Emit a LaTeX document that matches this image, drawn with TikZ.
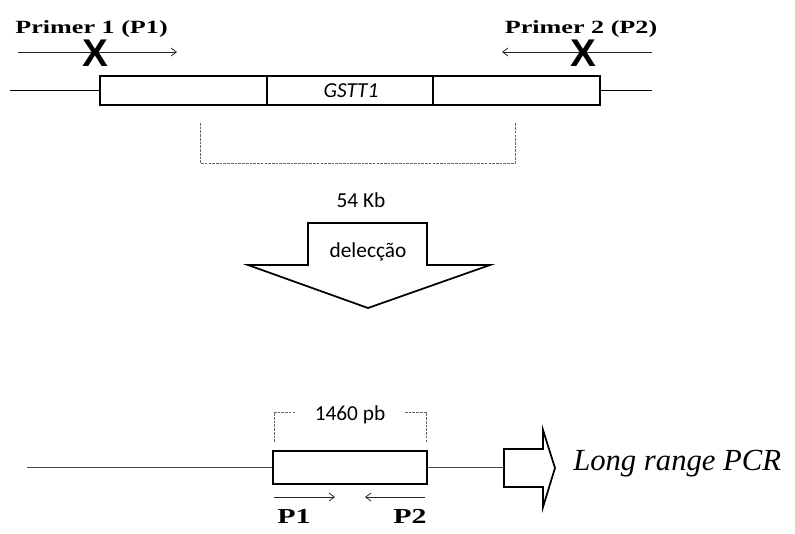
\documentclass[tikz,border=0pt]{standalone}
\usepackage{fontspec}
\setmainfont{Liberation Serif}
\newfontfamily\calfont{Carlito}
\newfontfamily\primfont{Liberation Serif}[UprightFont=* Bold, FakeStretch=1.4]
\newfontfamily\xfont{Liberation Sans}[UprightFont=* Bold]
\usetikzlibrary{arrows.meta, positioning}
\definecolor{lineGrey}{HTML}{4A4A4A}
\definecolor{dashGrey}{HTML}{666666}
\tikzset{
  gene/.style       = {draw, line width=1.8pt, minimum height=21.75pt, inner sep=0pt},
  flank/.style      = {line width=1.3pt},
  primer/.style     = {-{Straight Barb[length=4pt, width=6pt]}, line width=0.6pt, black!85},
  brack/.style      = {dashGrey, line width=0.7pt, dash pattern=on 2pt off 0.8pt},
  blockarrow/.style = {draw, line width=1.3pt, fill=white, line join=miter},
  plbl/.style       = {font=\primfont\fontsize{14}{16}\selectfont, inner sep=0pt},
  slbl/.style       = {font=\calfont\fontsize{16}{19}\selectfont, inner sep=0pt},
  xmark/.style      = {font=\xfont\fontsize{29}{30}\selectfont, inner sep=0pt},
}

\begin{document}
\begin{tikzpicture}[x=0.75pt, y=-0.75pt]
\useasboundingbox (0,0) rectangle (795,533);

% ---- top: GSTT1 locus with both primers -----------------------------------
\node[gene, minimum width=125.25pt] (seg1) at (183.5,90.5) {};
\node[gene, minimum width=124.5pt] (seg2) at (350,90.5) {};
\node[gene, minimum width=125.25pt] (seg3) at (516.5,90.5) {};
\node[slbl, font=\calfont\itshape\fontsize{16}{19}\selectfont, anchor=base] (gstt) at (351,97) {GSTT1};
\coordinate (flankL) at (10,90.5);
\coordinate (flankR) at (652,90.5);
\draw[flank] (flankL) -- (seg1.west);
\draw[flank] (seg3.east) -- (flankR);

\node[plbl, anchor=base] (pr1) at (91.5,33) {Primer 1 (P1)};
\node[plbl, anchor=base] (pr2) at (581,33) {Primer 2 (P2)};
\coordinate (p1a) at (18,52);
\coordinate (p1b) at (177,52);
\coordinate (p2a) at (652,52);
\coordinate (p2b) at (502,52);
\draw[primer] (p1a) -- (p1b);
\draw[primer] (p2a) -- (p2b);
\node[xmark] (x1) at (95,53) {X};
\node[xmark] (x2) at (583,53) {X};

% ---- deleted region and the block arrow -----------------------------------
\coordinate (d1) at (200,123);
\coordinate (d2) at (515,123);
\draw[brack] (d1) -- ++(0,40) -| (d2);
\node[slbl, anchor=base] (kb) at (361,207) {54 Kb};
\draw[blockarrow] (308,223) -- (427,223) -- (427,265) -- (490,265) -- (368,308)
  -- (248,265) -- (308,265) -- cycle;
\node[slbl, anchor=base] (del) at (368,257) {delecção};

% ---- bottom: deleted allele, long range PCR -------------------------------
\node[gene, minimum width=115.5pt, minimum height=24.75pt] (amp) at (350,467.5) {};
\coordinate (flankB) at (27,467.5);
\coordinate (pcrtail) at (504,467.5);
\draw[flank, lineGrey] (flankB) -- (amp.west);
\draw[flank, lineGrey] (amp.east) -- (pcrtail);
\draw[blockarrow] (504,449) -- (543,449) -- (543,430) -- (555,468) -- (543,507)
  -- (543,487) -- (504,487) -- cycle;
\node[anchor=base west, inner sep=0pt, font=\itshape\fontsize{23}{26}\selectfont] (pcr) at (573,470) {Long range PCR};

\draw[brack] (274,442) |- (295,412);
\draw[brack] (405,412) -| (426,442);
\node[slbl, anchor=base] (bp) at (350,420) {1460 pb};

\coordinate (q1a) at (274,497);
\coordinate (q1b) at (335,497);
\coordinate (q2a) at (425,497);
\coordinate (q2b) at (365,497);
\draw[primer] (q1a) -- (q1b);
\draw[primer] (q2a) -- (q2b);
\node[plbl, font=\primfont\fontsize{16}{18}\selectfont, anchor=north] (lp1) at (294,509) {P1};
\node[plbl, font=\primfont\fontsize{16}{18}\selectfont, anchor=north] (lp2) at (410,509) {P2};

\end{tikzpicture}
\end{document}
